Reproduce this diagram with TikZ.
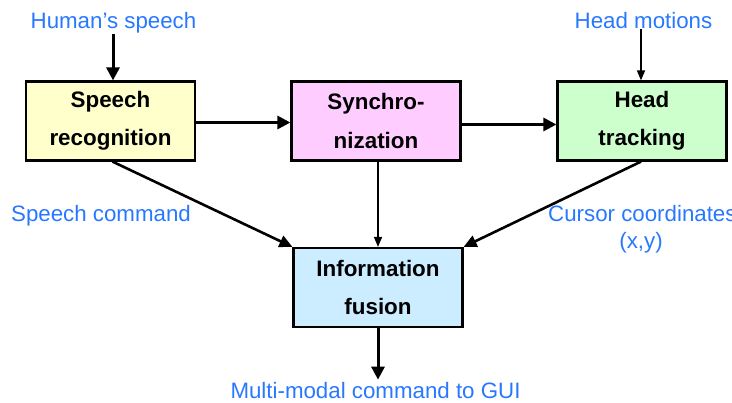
\documentclass[tikz,border=0pt]{standalone}
\usepackage{fontspec}
\setmainfont{Liberation Sans}
\usetikzlibrary{arrows.meta}
\definecolor{lblblue}{RGB}{40,120,255}
\definecolor{boxyellow}{RGB}{255,255,204}
\definecolor{boxpink}{RGB}{255,204,255}
\definecolor{boxgreen}{RGB}{204,255,204}
\definecolor{boxblue}{RGB}{204,236,255}
\begin{document}
\begin{tikzpicture}[x=1pt,y=-1pt,
  block/.style={draw=black, line width=2.2pt, minimum width=169pt, minimum height=79pt,
    inner sep=0pt, align=center, font=\bfseries\fontsize{22.4}{38.5}\selectfont},
  lbl/.style={text=lblblue, font=\fontsize{22.3}{26}\selectfont, inner sep=0pt, anchor=base},
  bigarrow/.style={line width=3pt, -{Triangle[length=13pt,width=13pt]}},
  midarrow/.style={line width=2.6pt, -{Triangle[length=13pt,width=12pt]}},
  thinarrow/.style={line width=1.5pt, -{Triangle[length=10pt,width=8pt]}}]
\useasboundingbox (0,0) rectangle (732,403);

% processing blocks
\node[block, fill=boxyellow] (sr)   at (110.5,121) {Speech\\recognition};
\node[block, fill=boxpink]   (sync) at (376,121)   {Synchro-\\nization};
\node[block, fill=boxgreen]  (ht)   at (642,121)   {Head\\tracking};
\node[block, fill=boxblue]   (fus)  at (378,287.5) {Information\\fusion};

% inputs and outputs
\node[lbl] (hs)  at (113.5,29)  {Human’s speech};
\node[lbl] (hm)  at (643.5,29)  {Head motions};
\node[lbl] (sc)  at (101,222)   {Speech command};
\node[lbl, anchor=base west] (cc) at (548,222) {Cursor coordinates};
\node[lbl] (xy)  at (641,249)   {(x,y)};
\node[lbl] (out) at (375.5,399) {Multi-modal command to GUI};

% connectors
\draw[bigarrow] ([xshift=-0.5pt]hs.south) -- ([xshift=-0.5pt]hs.south |- sr.north);
\draw[thinarrow] ([xshift=-2.5pt]hm.south) -- ([xshift=-2.5pt]hm.south |- ht.north);
\draw[bigarrow] ([yshift=-1.5pt]sr.east) -- ([yshift=-1.5pt]sync.west);
\draw[bigarrow] ([yshift=-3.5pt]sync.east) -- ([yshift=-3.5pt]ht.west);
\draw[midarrow] ([xshift=2pt]sr.south) -- (fus.north west);
\draw[midarrow] ([xshift=-1pt]ht.south) -- (fus.north east);
\draw[thinarrow] (sync.south -| fus.north) -- (fus.north);
\draw[bigarrow, shorten >=3pt] (fus.south) -- (fus.south |- out.north);
\end{tikzpicture}
\end{document}
